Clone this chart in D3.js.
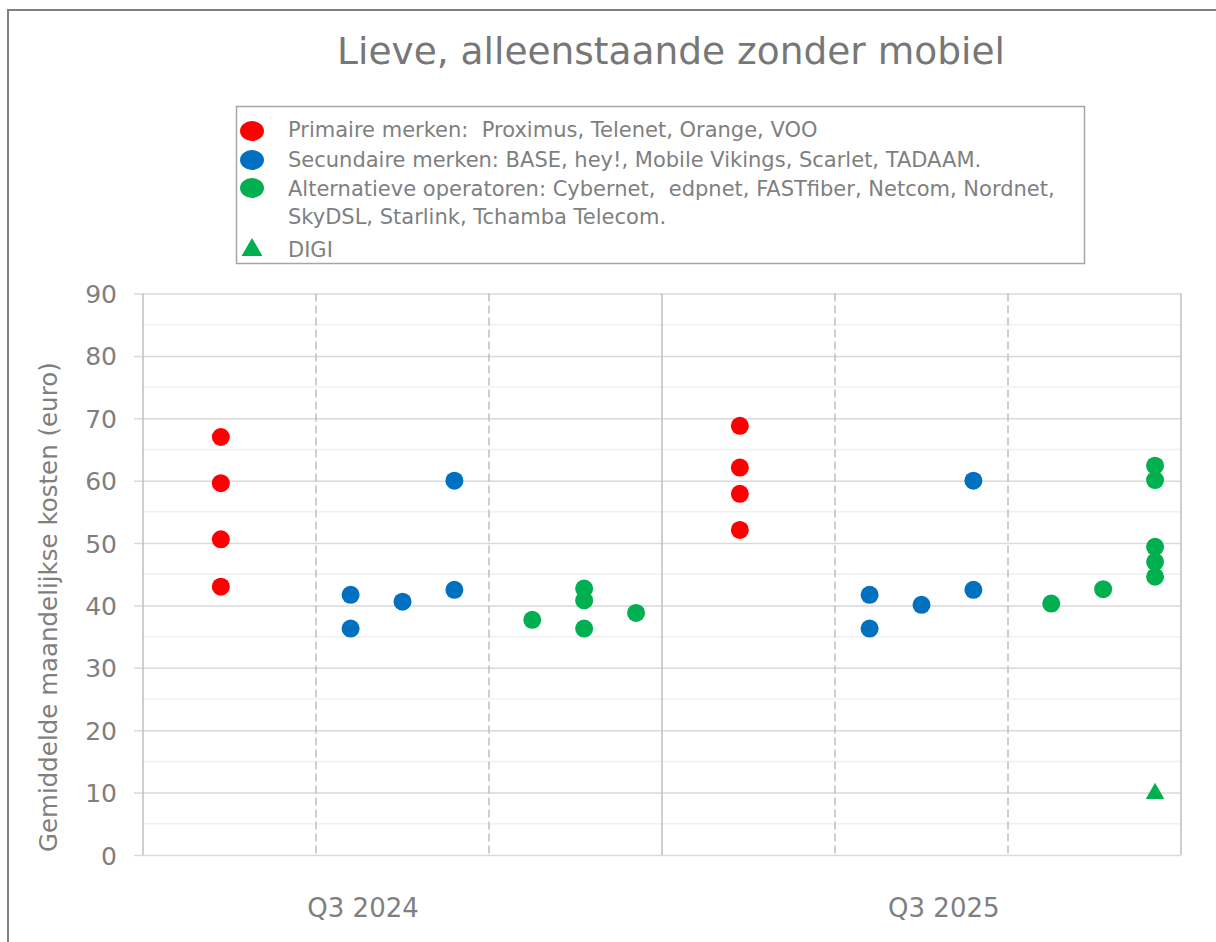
<!DOCTYPE html>
<html>
<head>
<meta charset="utf-8">
<script src="https://cdn.jsdelivr.net/npm/d3@7"></script>
<style>
  body { margin: 0; background: #fff; }
  text { font-family: "DejaVu Sans", sans-serif; fill: #7f7f7f; }
</style>
</head>
<body>
<script>
// categories and slot positions on the 0..20 x-axis
var categories = ["Q3 2024", "Q3 2025"];
var categoryX = [4.24, 15.43];

// Primaire merken
var primX = [1.5, 1.5, 1.5, 1.5, 11.5, 11.5, 11.5, 11.5];
var primY = [67.0, 59.6, 50.6, 43.0, 68.8, 62.1, 57.9, 52.1];

// Secundaire merken
var secX = [4, 4, 5, 6, 6, 14, 14, 15, 16, 16];
var secY = [41.7, 36.3, 40.6, 60.0, 42.5, 41.7, 36.3, 40.1, 60.0, 42.5];

// Alternatieve operatoren
var altX = [7.5, 8.5, 8.5, 8.5, 9.5, 17.5, 18.5, 19.5, 19.5, 19.5, 19.5, 19.5];
var altY = [37.7, 42.7, 40.8, 36.3, 38.8, 40.3, 42.6, 62.4, 60.1, 49.4, 47.0, 44.6];

// DIGI
var digiX = [19.5];
var digiY = [10.0];

var yTicks = [0, 10, 20, 30, 40, 50, 60, 70, 80, 90];
var yMinor = [5, 15, 25, 35, 45, 55, 65, 75, 85];
var dashedX = [10 / 3, 20 / 3, 40 / 3, 50 / 3];
var solidX = [10, 20];

var legendItems = [
    {label: ["Primaire merken:  Proximus, Telenet, Orange, VOO"], color: "#ff0000", shape: "circle"},
    {label: ["Secundaire merken: BASE, hey!, Mobile Vikings, Scarlet, TADAAM."], color: "#0070c0", shape: "circle"},
    {label: ["Alternatieve operatoren: Cybernet,  edpnet, FASTfiber, Netcom, Nordnet,", "SkyDSL, Starlink, Tchamba Telecom."], color: "#00b050", shape: "circle"},
    {label: ["DIGI"], color: "#00b050", shape: "triangle"}
];

var W = 1216, H = 942;
var svg = d3.select("body").append("svg").attr("width", W).attr("height", H);

// outer frame
svg.append("path")
    .attr("d", "M8," + H + "V10H" + W)
    .attr("fill", "none")
    .attr("stroke", "#808080")
    .attr("stroke-width", 2);

var x = d3.scaleLinear().domain([0, 20]).range([143, 1181]);
var y = d3.scaleLinear().domain([0, 90]).range([855, 293.5]);

// title
svg.append("text")
    .attr("x", 671).attr("y", 64)
    .attr("text-anchor", "middle")
    .style("font-size", "37.5px")
    .style("fill", "#777")
    .text("Lieve, alleenstaande zonder mobiel");

// minor gridlines
svg.append("g").selectAll("line").data(yMinor).enter().append("line")
    .attr("x1", x(0)).attr("x2", x(20))
    .attr("y1", function(d) { return y(d); }).attr("y2", function(d) { return y(d); })
    .attr("stroke", "#f0f0f0").attr("stroke-width", 1.5);

// major gridlines + y axis
var yAxis = d3.axisLeft(y).tickValues(yTicks).tickSize(-(x(20) - x(0))).tickSizeOuter(0).tickPadding(26);
var gy = svg.append("g").attr("transform", "translate(" + x(0) + ",0)").call(yAxis);
gy.select(".domain").remove();
gy.selectAll(".tick line").attr("stroke", "#d9d9d9").attr("stroke-width", 1.5).attr("x1", -9);
gy.selectAll(".tick text").style("font-size", "25px").style("fill", "#7f7f7f").attr("dy", "0.36em");

// vertical separators
svg.append("g").selectAll("line").data(dashedX).enter().append("line")
    .attr("x1", function(d) { return x(d); }).attr("x2", function(d) { return x(d); })
    .attr("y1", y(90)).attr("y2", y(0))
    .attr("stroke", "#bfbfbf").attr("stroke-width", 1.5)
    .attr("stroke-dasharray", "8,4");
svg.append("g").selectAll("line").data(solidX).enter().append("line")
    .attr("x1", function(d) { return x(d); }).attr("x2", function(d) { return x(d); })
    .attr("y1", y(90)).attr("y2", y(0))
    .attr("stroke", "#bfbfbf").attr("stroke-width", 1.5);

// left axis line
svg.append("line")
    .attr("x1", x(0)).attr("x2", x(0)).attr("y1", y(90)).attr("y2", y(0))
    .attr("stroke", "#bfbfbf").attr("stroke-width", 1.5);

// category labels
svg.append("g").selectAll("text").data(categories).enter().append("text")
    .attr("x", function(d, i) { return x(categoryX[i]); })
    .attr("y", 917)
    .attr("text-anchor", "middle")
    .style("font-size", "26px")
    .text(function(d) { return d; });

// y axis title
svg.append("text")
    .attr("transform", "translate(57,852) rotate(-90)")
    .style("font-size", "24.5px")
    .text("Gemiddelde maandelijkse kosten (euro)");

// points
function dots(xs, ys, color) {
    svg.append("g").selectAll("circle").data(ys).enter().append("circle")
        .attr("cx", function(d, i) { return x(xs[i]); })
        .attr("cy", function(d) { return y(d); })
        .attr("r", 9)
        .attr("fill", color);
}
dots(primX, primY, "#ff0000");
dots(secX, secY, "#0070c0");
dots(altX, altY, "#00b050");

var tri = d3.symbol().type(d3.symbolTriangle).size(150);
svg.append("g").selectAll("path").data(digiY).enter().append("path")
    .attr("d", tri)
    .attr("transform", function(d, i) { return "translate(" + x(digiX[i]) + "," + (y(d) + 1) + ")"; })
    .attr("fill", "#00b050");

// legend
var lg = svg.append("g");
lg.append("rect")
    .attr("x", 236.5).attr("y", 106.5).attr("width", 848).attr("height", 157)
    .attr("fill", "#fff").attr("stroke", "#a6a6a6").attr("stroke-width", 1.5);

var markerY = [131, 160, 188, 249];
var lineY = [[137], [167], [196, 224], [257]];
legendItems.forEach(function(item, i) {
    if (item.shape === "circle") {
        lg.append("ellipse").attr("cx", 252).attr("cy", markerY[i]).attr("rx", 12).attr("ry", 10).attr("fill", item.color);
    } else {
        lg.append("path").attr("d", d3.symbol().type(d3.symbolTriangle).size(190))
            .attr("transform", "translate(252," + (markerY[i] + 1) + ")").attr("fill", item.color);
    }
    item.label.forEach(function(t, j) {
        lg.append("text").attr("x", 288).attr("y", lineY[i][j])
            .style("font-size", "21px")
            .style("white-space", "pre")
            .text(t);
    });
});
</script>
</body>
</html>
